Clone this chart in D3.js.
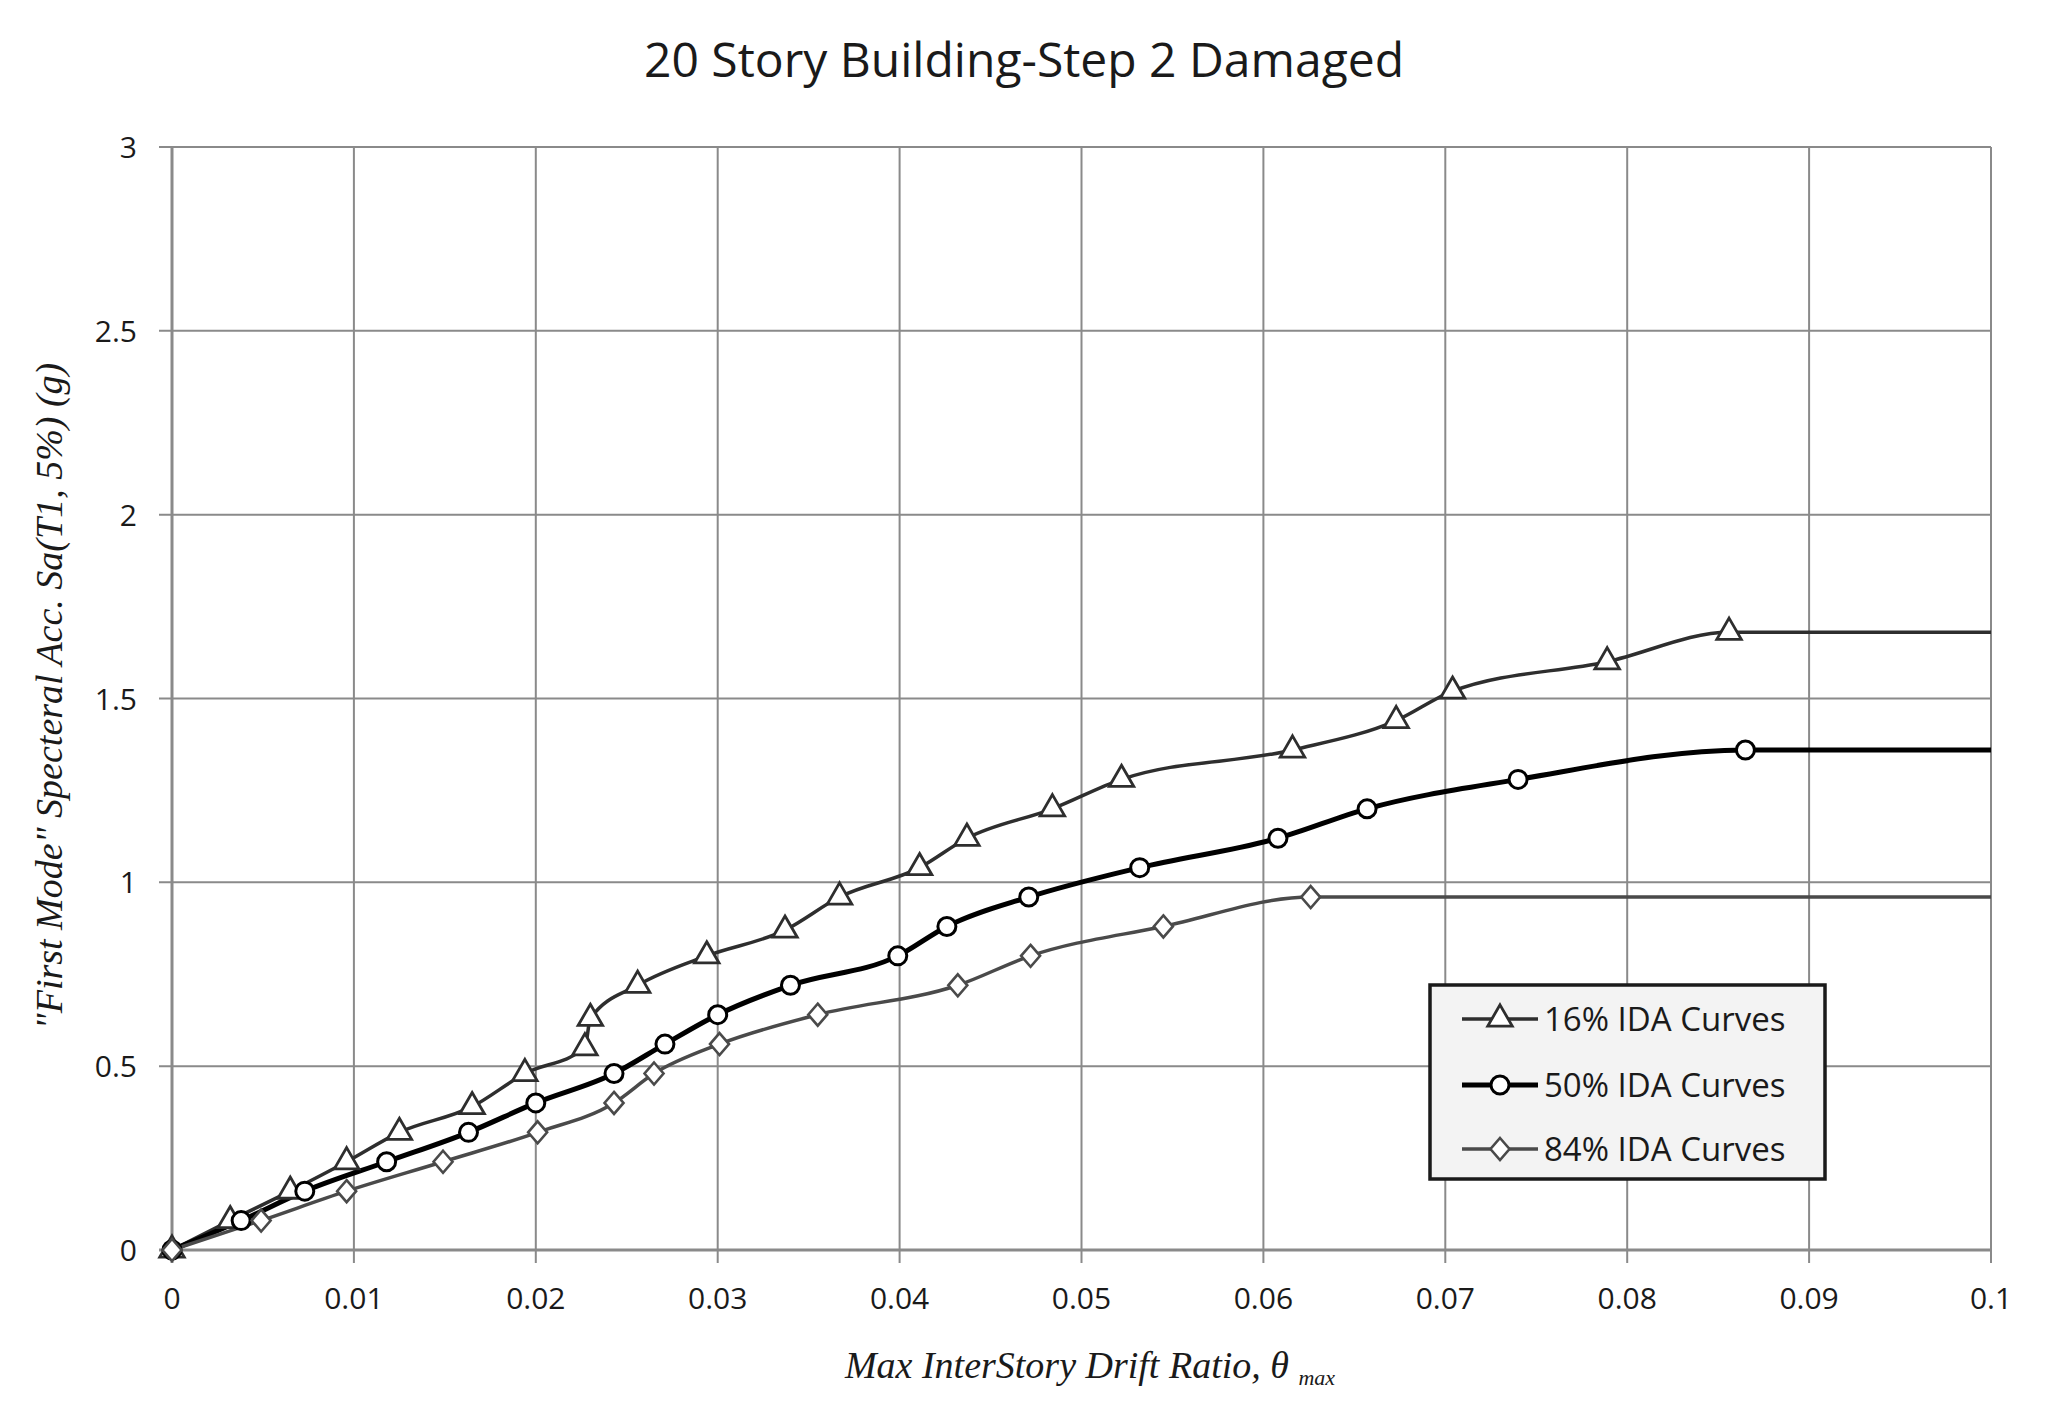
<!DOCTYPE html>
<html><head><meta charset="utf-8">
<script src="https://cdn.jsdelivr.net/npm/d3@7"></script>
<style>body{margin:0;background:#fff;} svg{display:block;}</style>
</head><body>
<script>
const xTicks = [0,0.01,0.02,0.03,0.04,0.05,0.06,0.07,0.08,0.09,0.1];
const xTickLabels = ["0","0.01","0.02","0.03","0.04","0.05","0.06","0.07","0.08","0.09","0.1"];
const yTicks = [0,0.5,1,1.5,2,2.5,3];
const yTickLabels = ["0","0.5","1","1.5","2","2.5","3"];

const x16 = [0,0.0032,0.0065,0.0096,0.0125,0.0165,0.0194,0.0227,0.0230,0.0256,0.0294,0.0337,0.0367,0.0411,0.0437,0.0484,0.0522,0.0616,0.0673,0.0704,0.0789,0.0856,0.1];
const y16 = [0,0.08,0.16,0.24,0.32,0.39,0.48,0.55,0.63,0.72,0.80,0.87,0.96,1.04,1.12,1.20,1.28,1.36,1.44,1.52,1.60,1.68,1.68];
const x50 = [0,0.0038,0.0073,0.0118,0.0163,0.0200,0.0243,0.0271,0.0300,0.0340,0.0399,0.0426,0.0471,0.0532,0.0608,0.0657,0.0740,0.0865,0.1];
const y50 = [0,0.08,0.16,0.24,0.32,0.40,0.48,0.56,0.64,0.72,0.80,0.88,0.96,1.04,1.12,1.20,1.28,1.36,1.36];
const x84 = [0,0.0049,0.0096,0.0149,0.0201,0.0243,0.0265,0.0301,0.0355,0.0432,0.0472,0.0545,0.0626,0.1];
const y84 = [0,0.08,0.16,0.24,0.32,0.40,0.48,0.56,0.64,0.72,0.80,0.88,0.96,0.96];
const seriesNames = ["16% IDA Curves","50% IDA Curves","84% IDA Curves"];

const W = 2059, H = 1415;
const L = 172, R = 1991, T = 147, B = 1250;
const svg = d3.select("body").append("svg").attr("width", W).attr("height", H);
const x = d3.scaleLinear().domain([0,0.1]).range([L,R]);
const y = d3.scaleLinear().domain([0,3]).range([B,T]);

const gridCol = "#8a8a8a";
svg.append("g").selectAll("line").data(xTicks.slice(1)).join("line")
  .attr("x1", d=>x(d)).attr("x2", d=>x(d)).attr("y1", T).attr("y2", B+13)
  .attr("stroke", gridCol).attr("stroke-width", 2);
svg.append("g").selectAll("line").data(yTicks.slice(1)).join("line")
  .attr("x1", L-13).attr("x2", R).attr("y1", d=>y(d)).attr("y2", d=>y(d))
  .attr("stroke", gridCol).attr("stroke-width", 2);
svg.append("line").attr("x1", L).attr("x2", L).attr("y1", T).attr("y2", B+13).attr("stroke", gridCol).attr("stroke-width", 3);
svg.append("line").attr("x1", L-13).attr("x2", R).attr("y1", B).attr("y2", B).attr("stroke", gridCol).attr("stroke-width", 3);

const font = "'Open Sans', 'DejaVu Sans', sans-serif";
svg.append("g").selectAll("text").data(xTicks).join("text")
  .attr("x", d=>x(d)).attr("y", B+59).attr("text-anchor","middle")
  .attr("font-family", font).attr("font-size", 30).attr("fill","#1a1a1a")
  .text((d,i)=>xTickLabels[i]);
svg.append("g").selectAll("text").data(yTicks).join("text")
  .attr("x", L-35).attr("y", d=>y(d)+11).attr("text-anchor","end")
  .attr("font-family", font).attr("font-size", 30).attr("fill","#1a1a1a")
  .text((d,i)=>yTickLabels[i]);

svg.append("text").attr("x", 1024).attr("y", 77).attr("text-anchor","middle")
  .attr("font-family", font).attr("font-size", 48).attr("fill","#1a1a1a")
  .text("20  Story  Building-Step 2 Damaged");

const serif = "'Liberation Serif', 'DejaVu Serif', serif";
const xt = svg.append("text").attr("x", 1090).attr("y", 1378).attr("text-anchor","middle")
  .attr("font-family", serif).attr("font-style","italic").attr("font-size", 38).attr("fill","#1a1a1a");
xt.append("tspan").text("Max InterStory Drift Ratio, \u03b8 ");
xt.append("tspan").attr("font-size", 22).attr("dy", 7).text("max");
svg.append("text").attr("transform", "translate(62,696) rotate(-90)").attr("text-anchor","middle")
  .attr("font-family", serif).attr("font-style","italic").attr("font-size", 38).attr("fill","#1a1a1a")
  .text("\"First Mode\" Specteral Acc. Sa(T1, 5%) (g)");

const series = [
  {xs:x16, ys:y16, color:"#2e2e2e", width:3.5, shape:"tri"},
  {xs:x50, ys:y50, color:"#000", width:5, shape:"circ"},
  {xs:x84, ys:y84, color:"#4a4a4a", width:3.5, shape:"dia"}
];
const line = d3.line().x(d=>x(d[0])).y(d=>y(d[1])).curve(d3.curveMonotoneX);
const symTri = d3.symbol().type(d3.symbolTriangle).size(260);
const diaPath = "M0,-11L9.5,0L0,11L-9.5,0Z";
function marker(g, shape, color, cx, cy){
  if (shape === "circ") {
    g.append("circle").attr("cx",cx).attr("cy",cy).attr("r",9).attr("fill","#fff").attr("stroke",color).attr("stroke-width",3);
  } else if (shape === "tri") {
    g.append("path").attr("d", symTri()).attr("transform",`translate(${cx},${cy})`).attr("fill","#fff").attr("stroke",color).attr("stroke-width",2.8);
  } else {
    g.append("path").attr("d", diaPath).attr("transform",`translate(${cx},${cy})`).attr("fill","#fff").attr("stroke",color).attr("stroke-width",2.6);
  }
}
series.forEach(s=>{
  const pts = s.xs.map((v,i)=>[v, s.ys[i]]);
  svg.append("path").datum(pts).attr("d", line).attr("fill","none").attr("stroke", s.color).attr("stroke-width", s.width);
});
series.forEach(s=>{
  const g = svg.append("g");
  s.xs.slice(0,-1).forEach((v,i)=> marker(g, s.shape, s.color, x(v), y(s.ys[i])));
});

const lg = svg.append("g");
lg.append("rect").attr("x",1430).attr("y",985).attr("width",395).attr("height",194)
  .attr("fill","#f3f3f3").attr("stroke","#1a1a1a").attr("stroke-width",3.5);
const ly = [1019, 1085, 1149];
series.forEach((s,i)=>{
  lg.append("line").attr("x1",1462).attr("x2",1538).attr("y1",ly[i]).attr("y2",ly[i]).attr("stroke",s.color).attr("stroke-width",s.width);
  marker(lg, s.shape, s.color, 1500, ly[i]);
  lg.append("text").attr("x",1544).attr("y",ly[i]+12).attr("font-family",font).attr("font-size",33).attr("fill","#1a1a1a").text(seriesNames[i]);
});
</script>
</body></html>
